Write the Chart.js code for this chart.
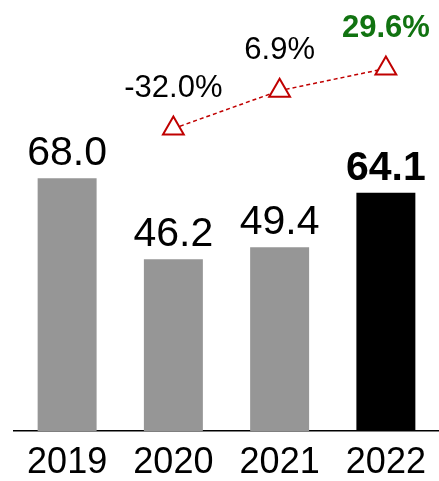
<!DOCTYPE html>
<html>
<head>
<meta charset="utf-8">
<script src="https://cdn.jsdelivr.net/npm/chart.js@4"></script>
<style>
  html, body { margin: 0; padding: 0; background: #fff; }
  #wrap { width: 439px; height: 481px; }
</style>
</head>
<body>
<div id="wrap"><canvas id="chart" width="439" height="481"></canvas></div>
<script>
// Data
const years = ['2019', '2020', '2021', '2022'];
const revenue = [68.0, 46.2, 49.4, 64.1];
const growth = [null, -32.0, 6.9, 29.6];
const revenueLabels = ['68.0', '46.2', '49.4', '64.1'];
const growthLabels = ['', '-32.0%', '6.9%', '29.6%'];

const FONT = "Arial, 'Liberation Sans', sans-serif";
const TRI_R = 12;

// value labels above the bars, growth labels above the triangles
const labelPlugin = {
  id: 'labels',
  afterDatasetsDraw(chart) {
    const ctx = chart.ctx;
    ctx.save();
    ctx.textAlign = 'center';
    ctx.textBaseline = 'alphabetic';

    const bars = chart.getDatasetMeta(0).data;
    bars.forEach((bar, i) => {
      const last = i === bars.length - 1;
      ctx.font = (last ? 'bold ' : '') + '41px ' + FONT;
      ctx.fillStyle = '#000';
      ctx.fillText(revenueLabels[i], bar.x, bar.y - 13);
    });

    const pts = chart.getDatasetMeta(1).data;
    pts.forEach((pt, i) => {
      if (growth[i] === null) return;
      const last = i === pts.length - 1;
      ctx.font = (last ? 'bold ' : '') + '31px ' + FONT;
      ctx.fillStyle = last ? '#117311' : '#000';
      ctx.fillText(growthLabels[i], pt.x, pt.y - TRI_R - 19.5);
    });
    ctx.restore();
  }
};

new Chart(document.getElementById('chart'), {
  type: 'bar',
  data: {
    labels: years,
    datasets: [{
      type: 'bar',
      data: revenue,
      backgroundColor: ['#969696', '#969696', '#969696', '#000000'],
      categoryPercentage: 1,
      barPercentage: 0.555,
      yAxisID: 'y',
      order: 2
    }, {
      type: 'line',
      data: growth,
      yAxisID: 'y1',
      borderColor: '#c00000',
      borderWidth: 1.5,
      borderDash: [4, 3],
      fill: false,
      tension: 0,
      pointStyle: 'triangle',
      pointRadius: TRI_R,
      pointBackgroundColor: '#fff',
      pointBorderColor: '#c00000',
      pointBorderWidth: 2,
      order: 1
    }]
  },
  options: {
    responsive: false,
    animation: false,
    layout: { autoPadding: false, padding: { left: 14, right: 0, top: 0, bottom: -15 } },
    scales: {
      x: {
        grid: { display: false, drawTicks: false },
        border: { display: true, color: '#000', width: 1.5 },
        ticks: { color: '#000', font: { size: 36, family: FONT, lineHeight: '57px' }, padding: 4 },
        afterFit(scale) {
          scale.paddingLeft = 0;
          scale.paddingRight = 0;
        }
      },
      y: { display: false, min: 0, max: 115.95 },
      y1: { display: false, min: -342.2, max: 99.85 }
    },
    plugins: {
      legend: { display: false },
      tooltip: { enabled: false }
    }
  },
  plugins: [labelPlugin]
});
</script>
</body>
</html>
